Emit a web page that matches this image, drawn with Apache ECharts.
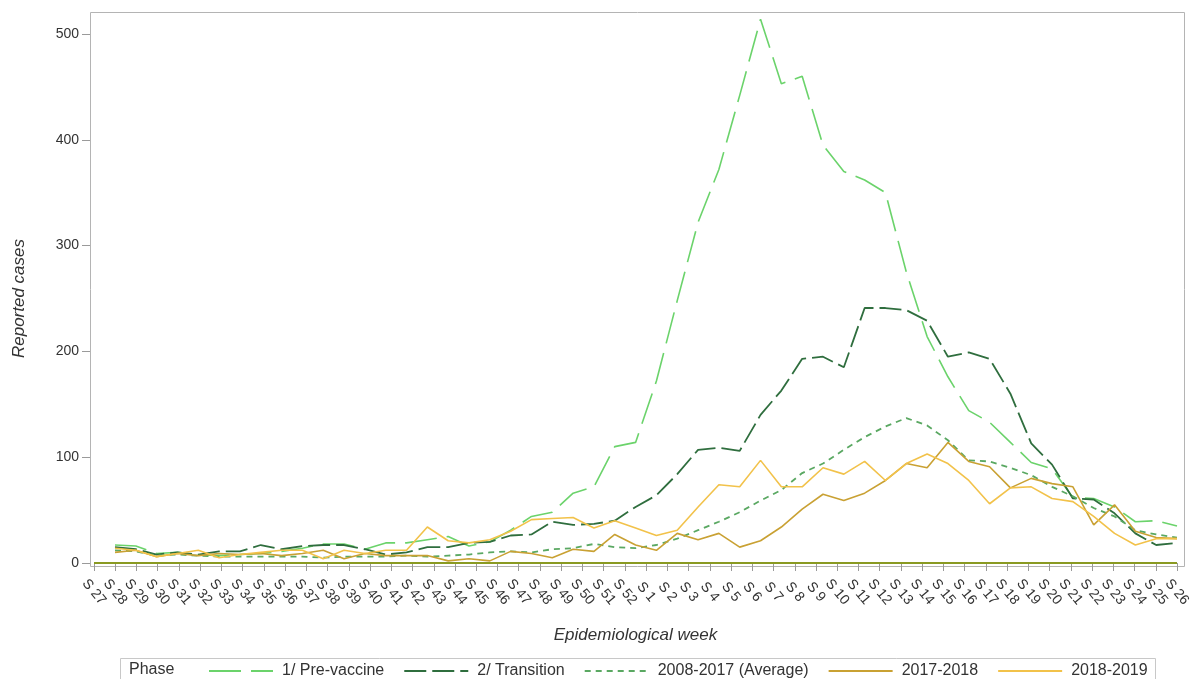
<!DOCTYPE html>
<html>
<head>
<meta charset="utf-8">
<script src="https://cdn.jsdelivr.net/npm/echarts@6/dist/echarts.min.js"></script>
<style>
  html, body { margin: 0; padding: 0; background: #fff; }
  #chart { width: 1195px; height: 679px; }
</style>
</head>
<body>
<div id="chart"></div>
<script>
// Epidemiological weeks of one season (S 27 to S 26)
const weeks = [
  'S 27','S 28','S 29','S 30','S 31','S 32','S 33','S 34','S 35','S 36','S 37','S 38','S 39',
  'S 40','S 41','S 42','S 43','S 44','S 45','S 46','S 47','S 48','S 49','S 50','S 51','S 52',
  'S 1','S 2','S 3','S 4','S 5','S 6','S 7','S 8','S 9','S 10','S 11','S 12','S 13',
  'S 14','S 15','S 16','S 17','S 18','S 19','S 20','S 21','S 22','S 23','S 24','S 25','S 26'
];

// Reported cases per week
const preVaccine = [17,16,9,10,8,7,8,9,11,14,18,18,13,19,19,22,25,16,20,31,44,48,66,72,110,114,
  172,248,322,372,442,514,453,460,395,370,362,350,275,214,176,144,133,114,95,89,62,61,53,39,40,35];
const transition = [15,13,8,10,8,11,11,17,13,16,17,17,13,8,10,15,15,19,20,26,27,39,36,37,40,53,
  64,84,107,109,106,140,163,193,195,185,241,241,239,229,195,199,193,160,113,93,61,60,47,28,17,19];
const average0817 = [12,11,7,8,7,6,6,6,6,6,5,6,6,6,7,6,7,8,10,11,10,13,14,18,15,14,
  17,23,31,39,48,59,69,85,94,107,119,129,137,130,116,97,96,90,83,72,63,52,44,31,27,24];
const season1718 = [10,12,6,9,7,9,8,9,7,9,12,4,9,7,7,7,2,4,2,11,9,5,13,11,27,17,
  12,28,22,28,15,21,34,51,65,59,66,78,94,90,114,96,91,71,80,75,72,36,55,30,24,23];
const season1819 = [14,12,6,9,12,5,8,10,12,12,4,12,9,12,12,34,21,19,22,30,41,42,43,33,40,33,
  26,31,53,74,72,97,72,72,90,84,96,78,94,103,94,78,56,71,72,61,58,44,28,17,23,23];

const yTicks = { min: 0, max: 500, step: 100 };

const FONT = '"Liberation Sans", Arial, sans-serif';
const TXT = '#333333';

const chart = echarts.init(document.getElementById('chart'), null, { renderer: 'canvas' });

function lineSeries(name, data, color, width, dash) {
  return {
    name, type: 'line', data,
    xAxisIndex: 1, yAxisIndex: 1,
    symbol: 'none', clip: false, smooth: false,
    lineStyle: { color, width, type: dash || 'solid' },
    itemStyle: { color },
    emphasis: { disabled: true }
  };
}

const option = {
  animation: false,
  backgroundColor: '#ffffff',
  textStyle: { fontFamily: FONT, color: TXT },
  grid: [
    { left: 94, right: 18, top: 34, bottom: 116 },
    { left: 115, right: 18, top: 34, bottom: 116 }
  ],
  xAxis: [
    {
      gridIndex: 0, type: 'category', data: weeks, boundaryGap: false, offset: 4,
      axisLine: { show: false },
      axisTick: { show: true, interval: 0, length: 8, lineStyle: { color: '#9a9a9a' } },
      axisLabel: {
        interval: 0, rotate: -50, align: 'center', verticalAlign: 'middle', margin: 25,
        fontSize: 14, color: TXT, fontFamily: FONT
      },
      splitLine: { show: false },
      name: 'Epidemiological week', nameLocation: 'middle', nameGap: 60,
      nameTextStyle: { fontSize: 17, fontStyle: 'italic', color: TXT, fontFamily: FONT }
    },
    {
      gridIndex: 1, type: 'category', data: weeks, boundaryGap: false, show: false
    }
  ],
  yAxis: [
    {
      gridIndex: 0, type: 'value', min: yTicks.min, max: yTicks.max, interval: yTicks.step, offset: 4,
      axisLine: { show: false },
      axisTick: { show: true, length: 8, lineStyle: { color: '#9a9a9a' } },
      axisLabel: { margin: 11, fontSize: 14, color: TXT, fontFamily: FONT },
      splitLine: { show: false },
      name: 'Reported cases', nameLocation: 'middle', nameGap: 62, nameRotate: 90,
      nameTextStyle: { fontSize: 17, fontStyle: 'italic', color: TXT, fontFamily: FONT }
    },
    {
      gridIndex: 1, type: 'value', min: yTicks.min, max: yTicks.max, interval: yTicks.step, show: false
    }
  ],
  legend: {
    left: 208, top: 663, padding: 0,
    itemWidth: 64, itemHeight: 14, itemGap: 19,
    itemStyle: { opacity: 0 },
    data: ['1/ Pre-vaccine', '2/ Transition', '2008-2017 (Average)', '2017-2018', '2018-2019'],
    textStyle: { fontSize: 16, color: TXT, fontFamily: FONT, padding: [0, 0, 0, 4] },
    selectedMode: false
  },
  graphic: [
    {
      type: 'rect', silent: true, z: 0,
      shape: { x: 90.5, y: 12.5, width: 1094, height: 554 },
      style: { fill: 'none', stroke: '#b4b4b4', lineWidth: 1 }
    },
    {
      type: 'rect', silent: true, z: 0,
      shape: { x: 120.5, y: 658.5, width: 1035, height: 40 },
      style: { fill: 'none', stroke: '#c8c8c8', lineWidth: 1 }
    },
    {
      type: 'text', silent: true, left: 129, top: 662,
      style: { text: 'Phase', font: '16px ' + FONT, fill: TXT }
    }
  ],
  series: [
    {
      name: 'baseline', type: 'line', data: [], xAxisIndex: 0, yAxisIndex: 0,
      symbol: 'none', silent: true,
      markLine: {
        silent: true, symbol: 'none', label: { show: false },
        lineStyle: { color: '#8a9a22', width: 2, type: 'solid' },
        data: [{ yAxis: 0 }]
      }
    },
    lineSeries('1/ Pre-vaccine', preVaccine, '#6bd36b', 1.6, [32, 10]),
    lineSeries('2/ Transition', transition, '#2f6e3e', 1.8, [22, 6]),
    lineSeries('2008-2017 (Average)', average0817, '#5aa862', 1.8, [6, 5]),
    lineSeries('2017-2018', season1718, '#c9a133', 1.6),
    lineSeries('2018-2019', season1819, '#f2c24a', 1.6)
  ]
};

chart.setOption(option);
</script>
</body>
</html>
